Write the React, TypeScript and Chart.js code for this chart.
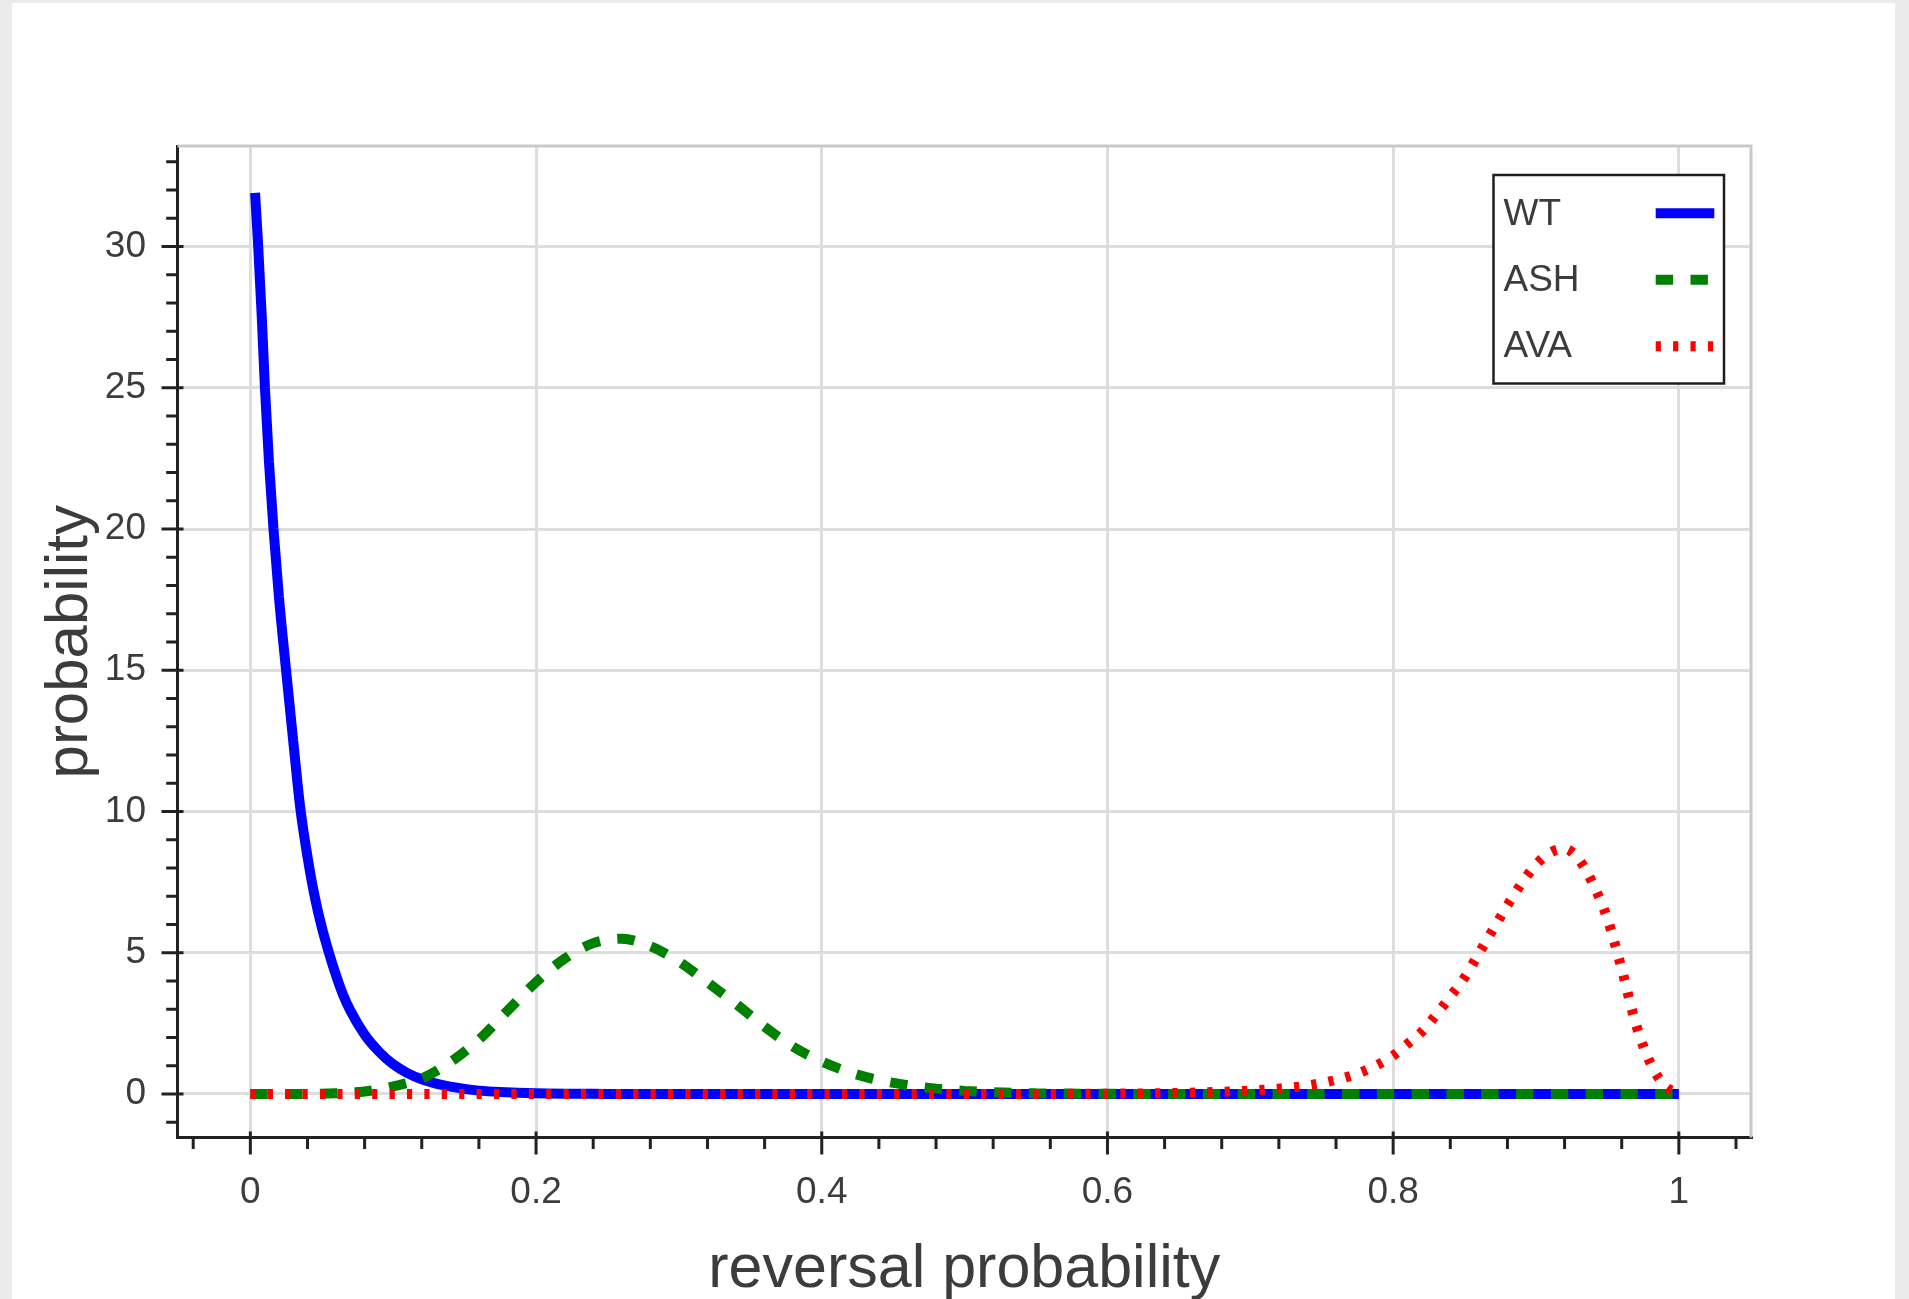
import React, { useEffect, useRef } from 'react';
import { Chart, registerables } from 'chart.js';

Chart.register(...registerables);

// ---- data ----
const WT_X = [0.0033, 0.0055, 0.008, 0.0102, 0.013, 0.0162, 0.02, 0.025, 0.03, 0.035, 0.04, 0.045, 0.05, 0.055, 0.06, 0.065, 0.07, 0.08, 0.09, 0.1, 0.11, 0.12, 0.13, 0.14, 0.15, 0.16, 0.175, 0.2, 0.25, 0.3, 0.4, 0.5, 0.6, 0.7, 0.8, 0.9, 1.0];
const WT_Y = [31.9, 30, 27.5, 25, 22.4, 20, 17.6, 15, 12.5, 10.1, 8.4, 7.0, 5.9, 5.0, 4.2, 3.5, 2.95, 2.1, 1.5, 1.05, 0.74, 0.52, 0.37, 0.26, 0.18, 0.12, 0.07, 0.025, 0.004, 0, 0, 0, 0, 0, 0, 0, 0];

const ASH_X = [0, 0.02, 0.04, 0.06, 0.08, 0.1, 0.12, 0.14, 0.16, 0.18, 0.2, 0.22, 0.24, 0.26, 0.28, 0.3, 0.32, 0.34, 0.36, 0.38, 0.4, 0.42, 0.44, 0.46, 0.48, 0.5, 0.52, 0.55, 0.6, 0.65, 0.7, 0.8, 0.9, 1.0];
const ASH_Y = [0, 0, 0.005, 0.03, 0.09, 0.27, 0.55, 1.13, 1.92, 2.95, 3.96, 4.79, 5.34, 5.5, 5.23, 4.69, 3.95, 3.19, 2.38, 1.67, 1.15, 0.76, 0.49, 0.31, 0.19, 0.11, 0.06, 0.025, 0.006, 0.001, 0, 0, 0, 0];

const AVA_X = [0, 0.1, 0.2, 0.3, 0.4, 0.5, 0.55, 0.6, 0.65, 0.68, 0.7, 0.72, 0.74, 0.76, 0.78, 0.8, 0.81, 0.82, 0.83, 0.84, 0.85, 0.86, 0.87, 0.88, 0.89, 0.9, 0.91, 0.92, 0.93, 0.94, 0.95, 0.96, 0.97, 0.98, 0.99, 1.0];
const AVA_Y = [0, 0, 0, 0, 0, 0, 0.003, 0.01, 0.04, 0.08, 0.12, 0.19, 0.3, 0.5, 0.82, 1.36, 1.77, 2.2, 2.8, 3.45, 4.12, 4.98, 5.83, 6.68, 7.46, 8.12, 8.55, 8.68, 8.3, 7.42, 6.2, 4.42, 2.46, 1.1, 0.3, 0];

const SERIES_LABELS = ['WT', 'ASH', 'AVA'];

const X_TICKS = [0, 0.2, 0.4, 0.6, 0.8, 1];
const X_TICK_LABELS = ['0', '0.2', '0.4', '0.6', '0.8', '1'];
const X_MINOR_TICKS = [-0.04, 0.04, 0.08, 0.12, 0.16, 0.24, 0.28, 0.32, 0.36, 0.44, 0.48, 0.52, 0.56, 0.64, 0.68, 0.72, 0.76, 0.84, 0.88, 0.92, 0.96, 1.04];
const Y_TICKS = [0, 5, 10, 15, 20, 25, 30];
const Y_TICK_LABELS = ['0', '5', '10', '15', '20', '25', '30'];
const Y_MINOR_TICKS = [-1, 1, 2, 3, 4, 6, 7, 8, 9, 11, 12, 13, 14, 16, 17, 18, 19, 21, 22, 23, 24, 26, 27, 28, 29, 31, 32, 33];

const X_TITLE = 'reversal probability';
const Y_TITLE = 'probability';

const FONT = "'Liberation Sans', Arial, Helvetica, sans-serif";
const TEXT_COLOR = '#3c3c3c';
const AXIS_COLOR = '#222222';

const toPoints = (xs: number[], ys: number[]) => xs.map((x, i) => ({ x, y: ys[i] }));

const decorPlugin = {
  id: 'decor',
  beforeDatasetsDraw(chart: any) {
    const { ctx, chartArea: a } = chart;
    ctx.save();
    ctx.strokeStyle = '#c9c9c9';
    ctx.lineWidth = 3;
    ctx.beginPath();
    ctx.moveTo(a.left, a.top);
    ctx.lineTo(a.right, a.top);
    ctx.lineTo(a.right, a.bottom);
    ctx.stroke();
    ctx.restore();
  },
  afterDatasetsDraw(chart: any) {
    const { ctx, chartArea: a, scales } = chart;
    const xs = scales.x;
    const ys = scales.y;
    ctx.save();
    ctx.strokeStyle = AXIS_COLOR;
    ctx.lineWidth = 3;
    ctx.beginPath();
    X_TICKS.forEach((v) => {
      const p = xs.getPixelForValue(v);
      ctx.moveTo(p, a.bottom - 6);
      ctx.lineTo(p, a.bottom + 17);
    });
    X_MINOR_TICKS.forEach((v) => {
      const p = xs.getPixelForValue(v);
      ctx.moveTo(p, a.bottom);
      ctx.lineTo(p, a.bottom + 11.5);
    });
    Y_TICKS.forEach((v) => {
      const p = ys.getPixelForValue(v);
      ctx.moveTo(a.left + 6, p);
      ctx.lineTo(a.left - 16, p);
    });
    Y_MINOR_TICKS.forEach((v) => {
      const p = ys.getPixelForValue(v);
      ctx.moveTo(a.left, p);
      ctx.lineTo(a.left - 11.3, p);
    });
    ctx.stroke();
    ctx.restore();
  },
  afterDraw(chart: any) {
    const { ctx, chartArea: a } = chart;
    const L = { x: a.right - 257.5, y: a.top + 29, w: 230.5, h: 208.5 };
    ctx.save();
    ctx.fillStyle = '#ffffff';
    ctx.fillRect(L.x, L.y, L.w, L.h);
    ctx.strokeStyle = '#1e1e1e';
    ctx.lineWidth = 2.5;
    ctx.strokeRect(L.x, L.y, L.w, L.h);
    ctx.font = `37px ${FONT}`;
    ctx.textBaseline = 'alphabetic';
    ctx.textAlign = 'left';
    chart.data.datasets.forEach((ds: any, i: number) => {
      const baseY = L.y + 49.5 + i * 66;
      const lineY = L.y + 38.3 + i * 66.5;
      ctx.fillStyle = TEXT_COLOR;
      ctx.fillText(ds.label, L.x + 10, baseY);
      ctx.strokeStyle = ds.borderColor;
      ctx.lineWidth = ds.borderWidth;
      ctx.lineCap = 'butt';
      ctx.setLineDash(ds.borderDash || []);
      ctx.beginPath();
      ctx.moveTo(L.x + 162.2, lineY);
      ctx.lineTo(L.x + 220.8, lineY);
      ctx.stroke();
      ctx.setLineDash([]);
    });
    ctx.restore();
  },
};

export default function App() {
  const canvasRef = useRef<HTMLCanvasElement | null>(null);

  useEffect(() => {
    document.body.style.margin = '0';
    document.body.style.overflow = 'hidden';
    const canvas = canvasRef.current;
    if (!canvas) return;
    const chart = new Chart(canvas, {
      type: 'line',
      data: {
        datasets: [
          {
            label: SERIES_LABELS[0],
            data: toPoints(WT_X, WT_Y),
            borderColor: '#0000ff',
            borderWidth: 10,
            pointRadius: 0,
            fill: false,
            cubicInterpolationMode: 'monotone',
            borderJoinStyle: 'bevel',
            order: 3,
          },
          {
            label: SERIES_LABELS[1],
            data: toPoints(ASH_X, ASH_Y),
            borderColor: '#008000',
            borderWidth: 10,
            borderDash: [17.4, 17.4],
            pointRadius: 0,
            fill: false,
            cubicInterpolationMode: 'monotone',
            borderJoinStyle: 'bevel',
            order: 2,
          },
          {
            label: SERIES_LABELS[2],
            data: toPoints(AVA_X, AVA_Y),
            borderColor: '#ff0000',
            borderWidth: 10,
            borderDash: [5.2, 12.2],
            pointRadius: 0,
            fill: false,
            cubicInterpolationMode: 'monotone',
            borderJoinStyle: 'bevel',
            order: 1,
          },
        ] as any,
      },
      options: {
        responsive: false,
        devicePixelRatio: 1,
        animation: false,
        events: [],
        layout: { padding: { left: 0, top: 146, right: 158, bottom: 0 } },
        plugins: {
          legend: { display: false },
          tooltip: { enabled: false },
        },
        scales: {
          x: {
            type: 'linear',
            position: 'bottom',
            min: -0.051,
            max: 1.0505,
            afterBuildTicks: (s: any) => {
              s.ticks = X_TICKS.map((v) => ({ value: v }));
            },
            afterFit: (s: any) => {
              s.height = 161.5;
            },
            grid: { color: '#dddddd', lineWidth: 3, drawTicks: false },
            border: { display: true, color: AXIS_COLOR, width: 3 },
            ticks: {
              padding: 33.2,
              color: TEXT_COLOR,
              autoSkip: false,
              maxRotation: 0,
              font: { family: FONT, size: 37, lineHeight: 1.2 },
              callback: (_v: any, i: number) => X_TICK_LABELS[i],
            },
            title: {
              display: true,
              text: X_TITLE,
              color: TEXT_COLOR,
              font: { family: FONT, size: 61, lineHeight: 1.0 },
              padding: { top: 0, bottom: -2 },
            },
          },
          y: {
            type: 'linear',
            min: -1.54,
            max: 33.56,
            afterBuildTicks: (s: any) => {
              s.ticks = Y_TICKS.map((v) => ({ value: v }));
            },
            afterFit: (s: any) => {
              s.width = 177.5;
            },
            grid: { color: '#dddddd', lineWidth: 3, drawTicks: false },
            border: { display: true, color: AXIS_COLOR, width: 3 },
            ticks: {
              padding: 31.5,
              color: TEXT_COLOR,
              autoSkip: false,
              font: { family: FONT, size: 37, lineHeight: 1.2 },
              callback: (_v: any, i: number) => Y_TICK_LABELS[i],
            },
            title: {
              display: true,
              text: Y_TITLE,
              color: TEXT_COLOR,
              font: { family: FONT, size: 60, lineHeight: 1.2 },
              padding: { top: 34.7, bottom: 0 },
            },
          },
        },
      } as any,
      plugins: [decorPlugin],
    });
    return () => chart.destroy();
  }, []);

  return (
    <div style={{ position: 'absolute', left: 0, top: 0, width: 1909, height: 1299, background: '#ebebeb', overflow: 'hidden' }}>
      <div style={{ position: 'absolute', left: 12, top: 3, width: 1883, height: 1296, background: '#ffffff' }} />
      <canvas
        ref={canvasRef}
        width={1909}
        height={1299}
        style={{ position: 'absolute', left: 0, top: 0, width: 1909, height: 1299 }}
      />
    </div>
  );
}
